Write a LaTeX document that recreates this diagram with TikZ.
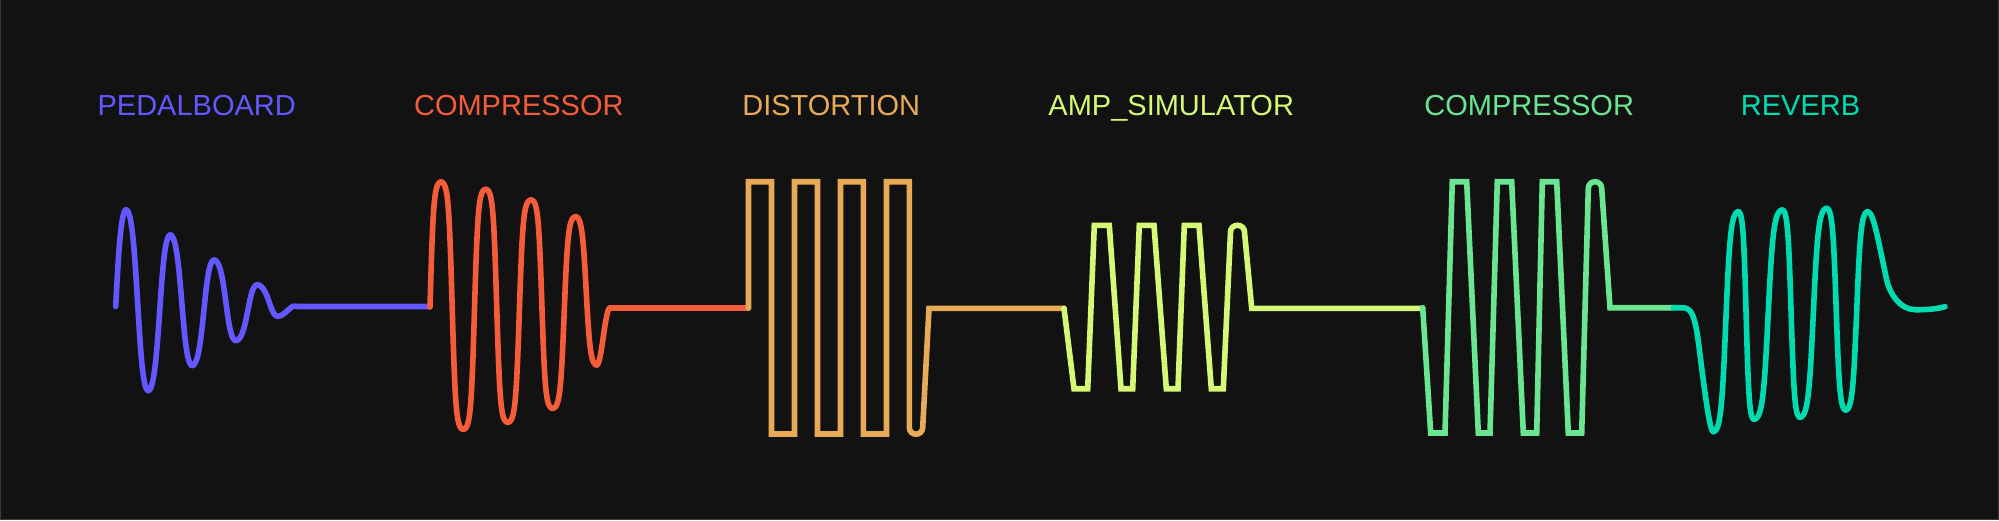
\documentclass[tikz,border=0pt]{standalone}
\usepackage{fontspec}
\setmainfont{Liberation Sans}
\definecolor{bgc}{HTML}{121212}
\definecolor{edgec}{HTML}{3A3A3A}
\definecolor{cBlue}{HTML}{6358FF}
\definecolor{cRed}{HTML}{F55D3A}
\definecolor{cOrange}{HTML}{E8AA56}
\definecolor{cYellow}{HTML}{D5F976}
\definecolor{cGreen}{HTML}{6AE692}
\definecolor{cTeal}{HTML}{00DBB0}
\begin{document}
\begin{tikzpicture}[x=0.5pt,y=-0.5pt,
  wave/.style={line width=2.8pt, line cap=round, line join=round},
  sqwave/.style={line width=2.8pt, line cap=round, line join=miter},
  lbl/.style={anchor=base, font=\fontsize{14.5}{17}\selectfont, inner sep=0pt}]
\fill[bgc] (0,0) rectangle (1999,520);
\useasboundingbox (0,0) rectangle (1999,520);
\draw[edgec, line width=0.5pt] (0.5,0) -- (0.5,519.5) -- (1998.5,519.5) -- (1998.5,0);

% labels
\node[lbl,text=cBlue]   (pedal) at (196.7,115.5)  {PEDALBOARD};
\node[lbl,text=cRed]    (compA) at (518.8,115.5)  {COMPRESSOR};
\node[lbl,text=cOrange] (dist)  at (831.2,115.5)  {DISTORTION};
\node[lbl,text=cYellow] (amp)   at (1171.2,115.5) {AMP\_SIMULATOR};
\node[lbl,text=cGreen]  (compB) at (1529.2,115.5) {COMPRESSOR};
\node[lbl,text=cTeal]   (rev)   at (1800.5,115.5) {REVERB};

% PEDALBOARD: damped sine
\draw[wave,cBlue] plot[domain=115.7:296.8,samples=300] (\x,{306.5-0.568*(296.8-\x)*tanh(1.0*sin((\x-115.7)/44.3*360))/tanh(1.0)}) -- (430,306.5);

% COMPRESSOR 1
\draw[wave,cRed] plot[domain=430:441,samples=25] (\x,{307-125*tanh(1.9*sin((\x-430)/11*90))/tanh(1.9)});
\foreach \xa/\ya/\xb/\yb/\gm in {441/182/463.3/429.3/1.9, 463.3/429.3/485.7/189.3/1.9, 485.7/189.3/507.7/422.3/1.9, 507.7/422.3/531/200/1.9, 531/200/552.7/408.3/1.9, 552.7/408.3/575.7/216.7/1.8, 575.7/216.7/596.7/365/1.5, 596.7/365/610/308/0.3}
  \draw[wave,cRed] plot[domain=\xa:\xb,samples=40] (\x,{(\ya+\yb)/2+(\ya-\yb)/2*tanh(\gm*cos((\x-\xa)/(\xb-\xa)*180))/tanh(\gm)});
\draw[wave,cRed] (610,308) -- (748.5,308);

% DISTORTION
\draw[sqwave,cOrange] (748.5,308) -- (748.5,181.7) -- (771.5,181.7) -- (771.5,434) -- (794.5,434) -- (794.5,181.7) -- (817.5,181.7) -- (817.5,434) -- (840.5,434) -- (840.5,181.7) -- (863.3,181.7) -- (863.3,434) -- (886.5,434) -- (886.5,181.7) -- (909.3,181.7) -- (909.3,427.5) .. controls (909.3,431.2) and (912.3,434.2) .. (916,434.2) .. controls (919.7,434.2) and (922.7,431.2) .. (922.7,427.5) -- (929,308.3) -- (1064,308.3);

% AMP_SIMULATOR
\draw[sqwave,cYellow] (1064,308.3) -- (1074,388.7) -- (1087.7,388.7) -- (1094.3,225.3) -- (1109.3,225.3) -- (1121,388.7) -- (1132.7,388.7) -- (1139.3,225.3) -- (1154,225.3) -- (1166.3,388.7) -- (1178,388.7) -- (1184.3,225.3) -- (1199,225.3) -- (1211.3,388.7) -- (1223.3,388.7) -- (1230.5,232) .. controls (1230.5,228.1) and (1233.6,225.3) .. (1237.5,225.3) .. controls (1241.4,225.3) and (1244.5,228.1) .. (1244.5,232) -- (1251.7,308.3) -- (1422.7,308.3);

% COMPRESSOR 2
\draw[sqwave,cGreen] (1422.7,307.7) -- (1430.7,433) -- (1445,433) -- (1452.3,181.7) -- (1466.7,181.7) -- (1478.3,433) -- (1490,433) -- (1497.3,181.7) -- (1511.7,181.7) -- (1523.3,433) -- (1536.7,433) -- (1542.3,181.7) -- (1556.7,181.7) -- (1568.3,433) -- (1581.7,433) -- (1588.3,188.4) .. controls (1588.3,184.7) and (1591.3,181.7) .. (1595,181.7) .. controls (1598.7,181.7) and (1601.7,184.7) .. (1601.7,188.4) -- (1610,307.7) -- (1673.3,307.7);

% REVERB
\draw[wave,cTeal] (1673.3,307.7) -- (1682,307.7) .. controls (1690,307.7) and (1693,313) .. (1696,327) .. controls (1699.5,343) and (1708,431.7) .. (1713.3,431.7);
\foreach \xa/\ya/\xb/\yb/\gm in {1713.3/431.7/1738.3/211.7/1.6, 1738.3/211.7/1754/419.3/1.6, 1754/419.3/1782.3/210/1.6, 1782.3/210/1800/417.3/1.6, 1800/417.3/1826.7/208.3/1.6, 1826.7/208.3/1845.7/410/1.6, 1845.7/410/1867.7/211.7/1.6}
  \draw[wave,cTeal] plot[domain=\xa:\xb,samples=40] (\x,{(\ya+\yb)/2+(\ya-\yb)/2*tanh(\gm*cos((\x-\xa)/(\xb-\xa)*180))/tanh(\gm)});
\draw[wave,cTeal] (1867.7,211.7) .. controls (1873.5,211.7) and (1878.2,240.6) .. (1886.7,280) .. controls (1889.7,293.8) and (1900,309.5) .. (1915,309.7) .. controls (1930,309.9) and (1938,308.5) .. (1945,306.7);
\end{tikzpicture}
\end{document}
